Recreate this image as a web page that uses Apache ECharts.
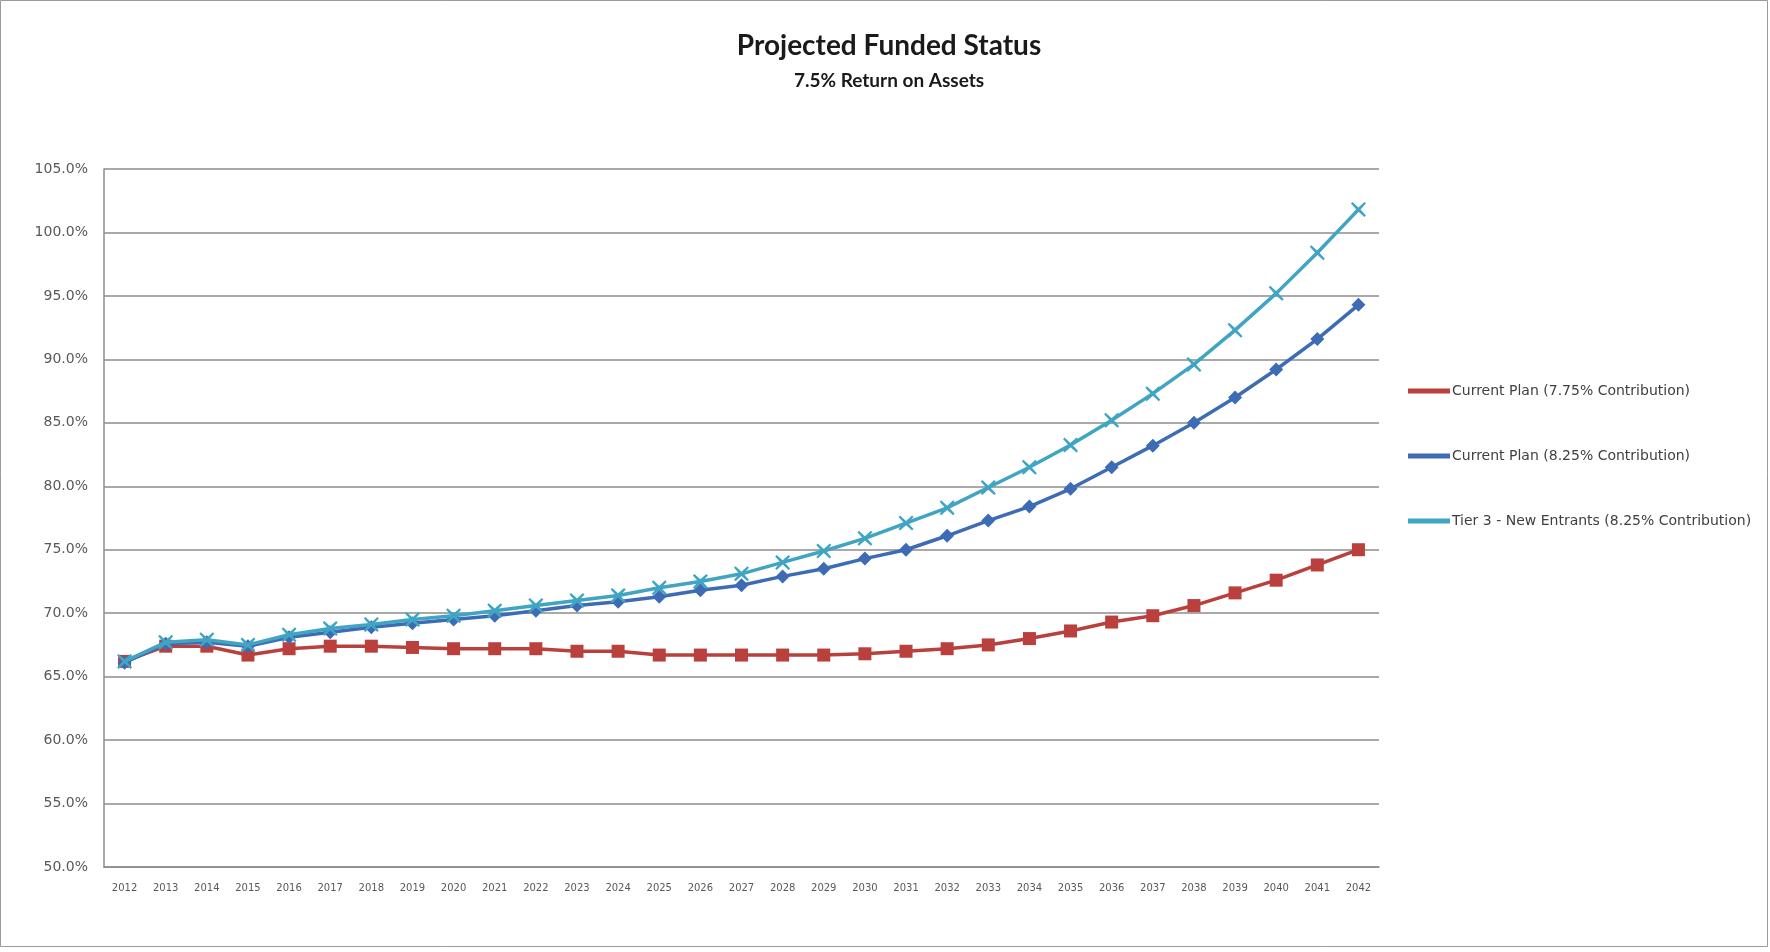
<!DOCTYPE html>
<html style="height: 100%">
<head>
<meta charset="utf-8">
</head>
<body style="height: 100%; margin: 0; background: #fff">
<div id="container" style="width: 1770px; height: 952px"></div>
<script type="text/javascript" src="https://cdn.jsdelivr.net/npm/echarts@6/dist/echarts.min.js"></script>
<script type="text/javascript">
// years on the x axis
var years = ['2012','2013','2014','2015','2016','2017','2018','2019','2020','2021','2022',
  '2023','2024','2025','2026','2027','2028','2029','2030','2031','2032','2033','2034',
  '2035','2036','2037','2038','2039','2040','2041','2042'];

// funded status in %
var currentPlan775 = [66.2,67.4,67.4,66.7,67.2,67.4,67.4,67.3,67.2,67.2,67.2,67.0,67.0,66.7,
  66.7,66.7,66.7,66.7,66.8,67.0,67.2,67.5,68.0,68.6,69.3,69.8,70.6,71.6,72.6,73.8,75.0];
var currentPlan825 = [66.1,67.6,67.7,67.4,68.1,68.5,68.9,69.2,69.5,69.8,70.2,70.6,70.9,71.3,
  71.8,72.2,72.9,73.5,74.3,75.0,76.1,77.3,78.4,79.8,81.5,83.2,85.0,87.0,89.2,91.6,94.3];
var tier3 = [66.2,67.7,67.9,67.5,68.3,68.8,69.1,69.5,69.8,70.2,70.6,71.0,71.4,72.0,72.5,
  73.1,74.0,74.9,75.9,77.1,78.3,79.9,81.5,83.25,85.2,87.3,89.6,92.3,95.2,98.4,101.8];

var seriesNames = ['Current Plan (7.75% Contribution)', 'Current Plan (8.25% Contribution)',
  'Tier 3 - New Entrants (8.25% Contribution)'];

var xMark = 'path://M1,0 L5,3.6 L9,0 L10,1 L6.4,5 L10,9 L9,10 L5,6.4 L1,10 L0,9 L3.6,5 L0,1 Z';
var font = 'Lato, "Liberation Sans", sans-serif';
var smallFont = '"DejaVu Sans", Verdana, sans-serif';

var dom = document.getElementById('container');
var myChart = echarts.init(dom);

option = {
  animation: false,
  textStyle: { fontFamily: font },
  title: {
    text: 'Projected Funded Status',
    subtext: '7.5% Return on Assets',
    left: 884,
    textAlign: 'center',
    top: 27,
    itemGap: 11,
    textStyle: { fontSize: 28, fontWeight: 'bold', color: '#1a1a1a', fontFamily: font },
    subtextStyle: { fontSize: 19, fontWeight: 'bold', color: '#1a1a1a', fontFamily: font }
  },
  graphic: [{
    type: 'rect',
    shape: { x: 0.5, y: 0.5, width: 1767, height: 946 },
    style: { fill: 'none', stroke: '#9a9a9a', lineWidth: 1 }
  }],
  legend: {
    orient: 'vertical',
    left: 1403,
    top: 379,
    icon: 'rect',
    itemWidth: 42,
    itemHeight: 5,
    itemGap: 51,
    textStyle: { fontSize: 14, color: '#404040', fontFamily: smallFont, padding: [0, 0, 0, -3] },
    data: seriesNames
  },
  grid: { left: 104, right: 391, top: 169, bottom: 85 },
  xAxis: {
    type: 'category',
    data: years,
    boundaryGap: true,
    axisLine: { lineStyle: { color: '#8c8c8c', width: 1.5 } },
    axisTick: { show: false },
    axisLabel: { fontSize: 10, color: '#595959', margin: 16, fontFamily: smallFont }
  },
  yAxis: {
    type: 'value',
    min: 50,
    max: 105,
    interval: 5,
    axisLine: { show: true, lineStyle: { color: '#8c8c8c', width: 1.5 } },
    axisTick: { show: false },
    splitLine: { lineStyle: { color: '#8c8c8c', width: 1.5 } },
    axisLabel: {
      fontSize: 14, color: '#595959', margin: 16, fontFamily: smallFont,
      formatter: function (v) { return v.toFixed(1) + '%'; }
    }
  },
  series: [
    {
      name: seriesNames[0],
      type: 'line',
      data: currentPlan775,
      symbol: 'rect',
      symbolSize: 13,
      lineStyle: { width: 3.5, color: '#b9403d' },
      itemStyle: { color: '#b9403d' },
      z: 3
    },
    {
      name: seriesNames[1],
      type: 'line',
      data: currentPlan825,
      symbol: 'diamond',
      symbolSize: 14,
      lineStyle: { width: 3.5, color: '#3d6cb5' },
      itemStyle: { color: '#3d6cb5' },
      z: 4
    },
    {
      name: seriesNames[2],
      type: 'line',
      data: tier3,
      symbol: xMark,
      symbolSize: 15,
      lineStyle: { width: 3.5, color: '#3fa5c3' },
      itemStyle: { color: '#3fa5c3' },
      z: 5
    }
  ]
};

if (option && typeof option === 'object') {
  myChart.setOption(option, true);
}
</script>
</body>
</html>
